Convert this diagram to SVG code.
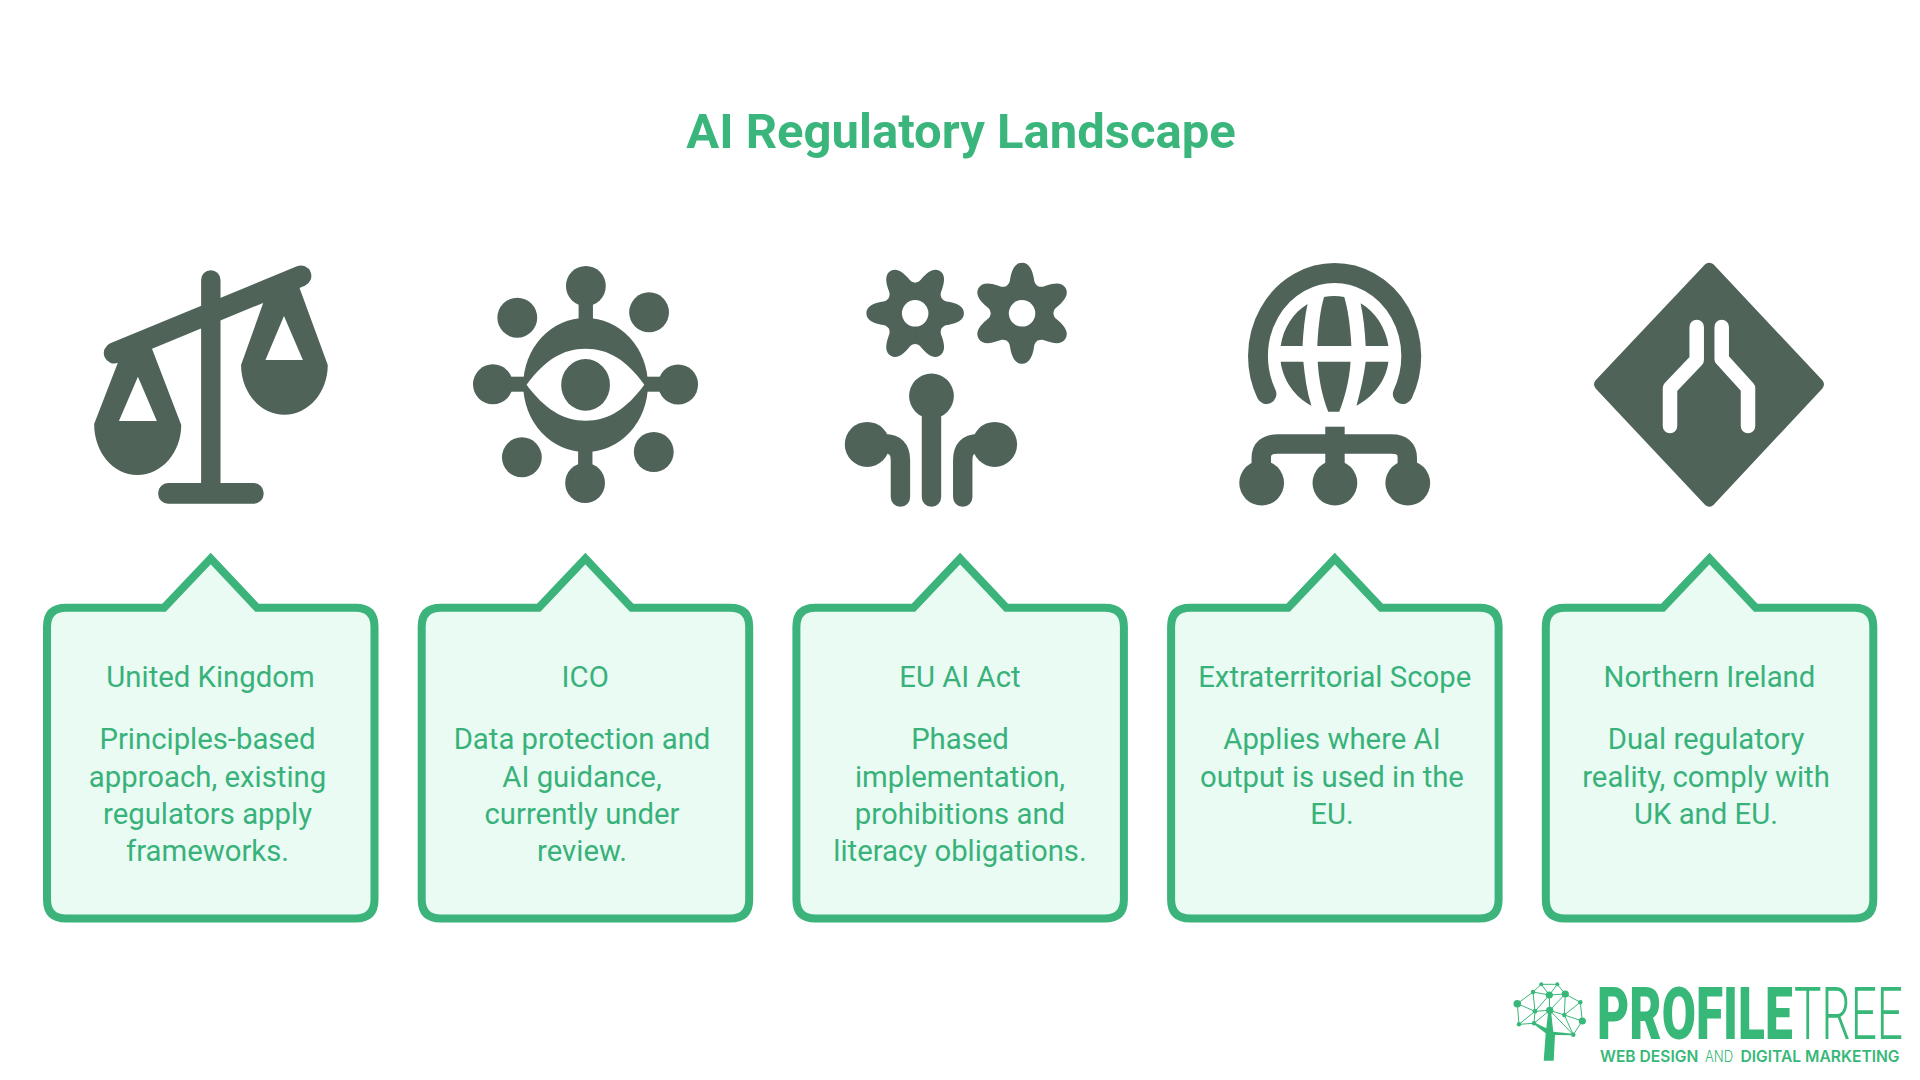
<svg xmlns="http://www.w3.org/2000/svg" width="1920" height="1080" viewBox="0 0 1920 1080">
<style>
.title{font:700 49px Roboto,"Liberation Sans",sans-serif;fill:#3ab67c;text-anchor:middle}
.t{font:400 29.3px Roboto,"Liberation Sans",sans-serif;fill:#38b27a;text-anchor:middle}
.card{fill:#e9fbf3;stroke:#3bb37a;stroke-width:8;stroke-linejoin:miter}
.i{fill:#4f6359}
.s{fill:none;stroke:#4f6359;stroke-width:19.5;stroke-linecap:round;stroke-linejoin:round}
.w{fill:#fff}
.wl{fill:none;stroke:#fff;stroke-width:14.5;stroke-linecap:round;stroke-linejoin:round}
.lg{fill:#38b878}
.ll{stroke:#38b878;stroke-width:1;fill:none}
.big{font-family:Roboto,sans-serif;font-size:73px;fill:#38b878}
.tag{font-family:Inter,sans-serif;font-size:15.6px;fill:#38b878}
</style>
<defs>
<path id="cb" d="M66,607.7H164L210.7,558.5L257,607.7H355.5Q374.5,607.7 374.5,626.7V899.5Q374.5,918.5 355.5,918.5H66Q47,918.5 47,899.5V626.7Q47,607.7 66,607.7Z"/>
<path id="lobe" d="M0,0L26.5,-15.3C29,-12 31,-12 34,-11.5C42,-10 49,-7 49,0C49,7 42,10 34,11.5C31,12 29,12 26.5,15.3Z"/>
<g id="gear"><circle r="30"/><use href="#lobe"/><use href="#lobe" transform="rotate(60)"/><use href="#lobe" transform="rotate(120)"/><use href="#lobe" transform="rotate(180)"/><use href="#lobe" transform="rotate(240)"/><use href="#lobe" transform="rotate(300)"/></g>
</defs>
<rect width="1920" height="1080" fill="#fff"/>
<text id="title" class="title" x="961" y="148.3">AI Regulatory Landscape</text>

<g id="icon-uk" class="i" transform="matrix(.9954 0 0 1 .276 0)">
<path class="s" d="M114.5,353L302,276" style="stroke-width:21"/>
<path class="s" d="M211.5,280V490"/>
<rect x="158.6" y="483" width="106" height="20.7" rx="10"/>
<path fill-rule="evenodd" d="M118.4,362L94.3,424C94.3,452 113,475 137.8,475C162.5,475 181.8,452 181.8,425L151,345ZM138.3,376.7L119.2,421H157.3Z"/>
<path fill-rule="evenodd" d="M265.2,300L241.9,365C241.9,392 261,414.7 285.5,414.7C310,414.7 329,392 329,365L297.7,280ZM285,316L266.4,360H304Z"/>
</g>

<g id="icon-ico" class="i" transform="matrix(.9954 0 0 1 .276 0)">
<ellipse cx="588" cy="385" rx="62.6" ry="67"/>
<rect x="581" y="286" width="14.4" height="40"/>
<rect x="580.5" y="445" width="14.4" height="38"/>
<rect x="495" y="376.7" width="40" height="15"/>
<rect x="641" y="376.7" width="40" height="15"/>
<circle cx="588.3" cy="286" r="20"/><circle cx="519.4" cy="317.7" r="20"/><circle cx="651.8" cy="312.3" r="20"/>
<circle cx="494.9" cy="384.3" r="20"/><circle cx="681" cy="384.5" r="20"/>
<circle cx="587.5" cy="483" r="20"/><circle cx="524" cy="457.3" r="20"/><circle cx="656.5" cy="452" r="20"/>
<path class="w" d="M528.7,384.7C547,360 565,348.7 588,348.7C611,348.7 629,360 647,384.7C629,409 611,420.7 588,420.7C565,420.7 547,409 528.7,384.7Z"/>
<ellipse cx="588" cy="384.9" rx="24.5" ry="25.8"/>
</g>

<g id="icon-eu" class="i" transform="matrix(.9954 0 0 1 3.77 0)">
<use href="#gear" transform="translate(915.6,313.3)"/>
<circle class="w" cx="915.6" cy="313.3" r="13.3"/>
<use href="#gear" transform="translate(1023,313.3) rotate(30) scale(1.03)"/>
<circle class="w" cx="1023" cy="313.3" r="13.3"/>
<circle cx="932" cy="396" r="22.5"/><circle cx="867.4" cy="444.4" r="22.5"/><circle cx="995.5" cy="444.4" r="22.5"/>
<path class="s" d="M932,400V497"/>
<path class="s" d="M875,443.8H885Q900.8,443.8 900.8,460V497"/>
<path class="s" d="M988,443.8H979Q963.4,443.8 963.4,460V497"/>
</g>

<g id="icon-scope" class="i" transform="matrix(.9954 0 0 1 3.77 0)">
<path class="s" d="M1268.5,394A77,83 0 1 1 1405.5,394" style="stroke-width:20"/>
<path d="M1319.6,346C1320.5,325 1323,308 1326.4,297Q1336.5,295 1346.7,297C1350,308 1352.8,325 1353.8,346Z"/>
<path d="M1320,361.7H1353C1352,380 1347,398 1341.6,411.7H1330.6C1325,398 1321,380 1320,361.7Z"/>
<path d="M1282.8,346C1285.5,328 1295,313 1309.8,304C1307,317 1305.5,331 1304.8,346Z"/>
<path d="M1391,346C1388.5,328 1378,312 1363.1,303.3C1366,317 1367.5,331 1368.2,346Z"/>
<path d="M1282.8,361.7C1285,380 1297,397 1313.7,405.7C1309,391 1307,376 1305.6,361.7Z"/>
<path d="M1391,361.7C1389,380 1376,397 1358.9,405.7C1363,391 1366.5,376 1368.2,361.7Z"/>
<path d="M1263.3,475V458Q1263.3,444 1280,444H1394Q1410,444 1410,458V475" class="s" style="stroke-linecap:butt"/>
<rect x="1327.6" y="426.7" width="19.5" height="50"/>
<circle cx="1263.7" cy="483" r="22.5"/><circle cx="1337.3" cy="483" r="22.5"/><circle cx="1410.5" cy="483" r="22.5"/>
</g>

<g id="icon-ni">
<path class="i" stroke="#4f6359" stroke-width="12" stroke-linejoin="round" d="M1709.3,268.7L1818,384.3L1709.3,500.7L1600,384.3Z"/>
<path class="wl" d="M1696.7,327V360L1670,388V426"/>
<path class="wl" d="M1721.7,327V359L1748,388V426"/>
</g>

<g id="card-uk"><use href="#cb" class="card"/>
<text class="t" x="210.5" y="687">United Kingdom</text>
<text class="t" x="207.5" y="749.3">Principles-based</text>
<text class="t" x="207.5" y="786.5">approach, existing</text>
<text class="t" x="207.5" y="823.7">regulators apply</text>
<text class="t" x="207.5" y="860.9">frameworks.</text></g>
<g id="card-ico"><use href="#cb" class="card" x="374.7"/>
<text class="t" x="585.2" y="687">ICO</text>
<text class="t" x="582" y="749.3">Data protection and</text>
<text class="t" x="582" y="786.5">AI guidance,</text>
<text class="t" x="582" y="823.7">currently under</text>
<text class="t" x="582" y="860.9">review.</text></g>
<g id="card-eu"><use href="#cb" class="card" x="749.4"/>
<text class="t" x="960" y="687">EU AI Act</text>
<text class="t" x="960" y="749.3">Phased</text>
<text class="t" x="960" y="786.5">implementation,</text>
<text class="t" x="960" y="823.7">prohibitions and</text>
<text class="t" x="960" y="860.9">literacy obligations.</text></g>
<g id="card-scope"><use href="#cb" class="card" x="1124.1"/>
<text class="t" x="1334.7" y="687">Extraterritorial Scope</text>
<text class="t" x="1332" y="749.3">Applies where AI</text>
<text class="t" x="1332" y="786.5">output is used in the</text>
<text class="t" x="1332" y="823.7">EU.</text></g>
<g id="card-ni"><use href="#cb" class="card" x="1498.8"/>
<text class="t" x="1709.4" y="687">Northern Ireland</text>
<text class="t" x="1706" y="749.3">Dual regulatory</text>
<text class="t" x="1706" y="786.5">reality, comply with</text>
<text class="t" x="1706" y="823.7">UK and EU.</text></g>

<g id="logo">
<path class="ll" d="M1541.3,984.3L1557.3,984.3L1549.3,995L1541.3,984.3L1533,992L1549.3,995L1565.3,994L1557.3,984.3M1533,992L1517.3,1003.7L1535,1011.3L1533,992M1549.3,995L1535,1011.3L1549.7,1010.3L1549.3,995M1565.3,994L1549.7,1010.3L1564.3,1015L1565.3,994L1580.3,1002.3L1564.3,1015L1582.3,1021L1580.3,1002.3M1517.3,1003.7L1519,1024.3L1535,1011.3L1534,1023.3L1519,1024.3M1534,1023.3L1549.7,1010.3M1564.3,1015L1573.3,1034.7L1582.3,1021M1549.7,1010.3L1573.3,1034.7"/>
<path class="lg" d="M1543.7,1060.7L1545.7,1033.3L1534,1024.3L1535,1022.7L1546.3,1028.3L1548.3,1011H1551L1553.3,1031.7L1573.3,1033.7V1035.3L1555,1035L1553.7,1060.7Z"/>
<g class="lg"><circle cx="1517.3" cy="1003.7" r="3.8"/><circle cx="1533" cy="992" r="2.2"/><circle cx="1541.3" cy="984.3" r="2"/><circle cx="1557.3" cy="984.3" r="2"/><circle cx="1549.3" cy="995" r="3.6"/><circle cx="1565.3" cy="994" r="3.6"/><circle cx="1580.3" cy="1002.3" r="2.2"/><circle cx="1535" cy="1011.3" r="2.4"/><circle cx="1549.7" cy="1010.3" r="3.6"/><circle cx="1564.3" cy="1015" r="2.2"/><circle cx="1582.3" cy="1021" r="3.6"/><circle cx="1519" cy="1024.3" r="2.2"/><circle cx="1534" cy="1023.3" r="2.2"/><circle cx="1573.3" cy="1034.7" r="2.2"/></g>
<text class="big" transform="translate(1597,1039.3) scale(.68,1)" font-weight="900">PROFILE</text>
<text class="big" transform="translate(1794,1039.3) scale(.63,1)" font-weight="300">TREE</text>
<text class="tag" x="1600" y="1061.7" font-weight="600">WEB DESIGN</text>
<text class="tag" transform="translate(1705,1061.7) scale(.84,1)" font-weight="300">AND</text>
<text class="tag" x="1740.5" y="1061.7" font-weight="600">DIGITAL MARKETING</text>
</g>
</svg>
